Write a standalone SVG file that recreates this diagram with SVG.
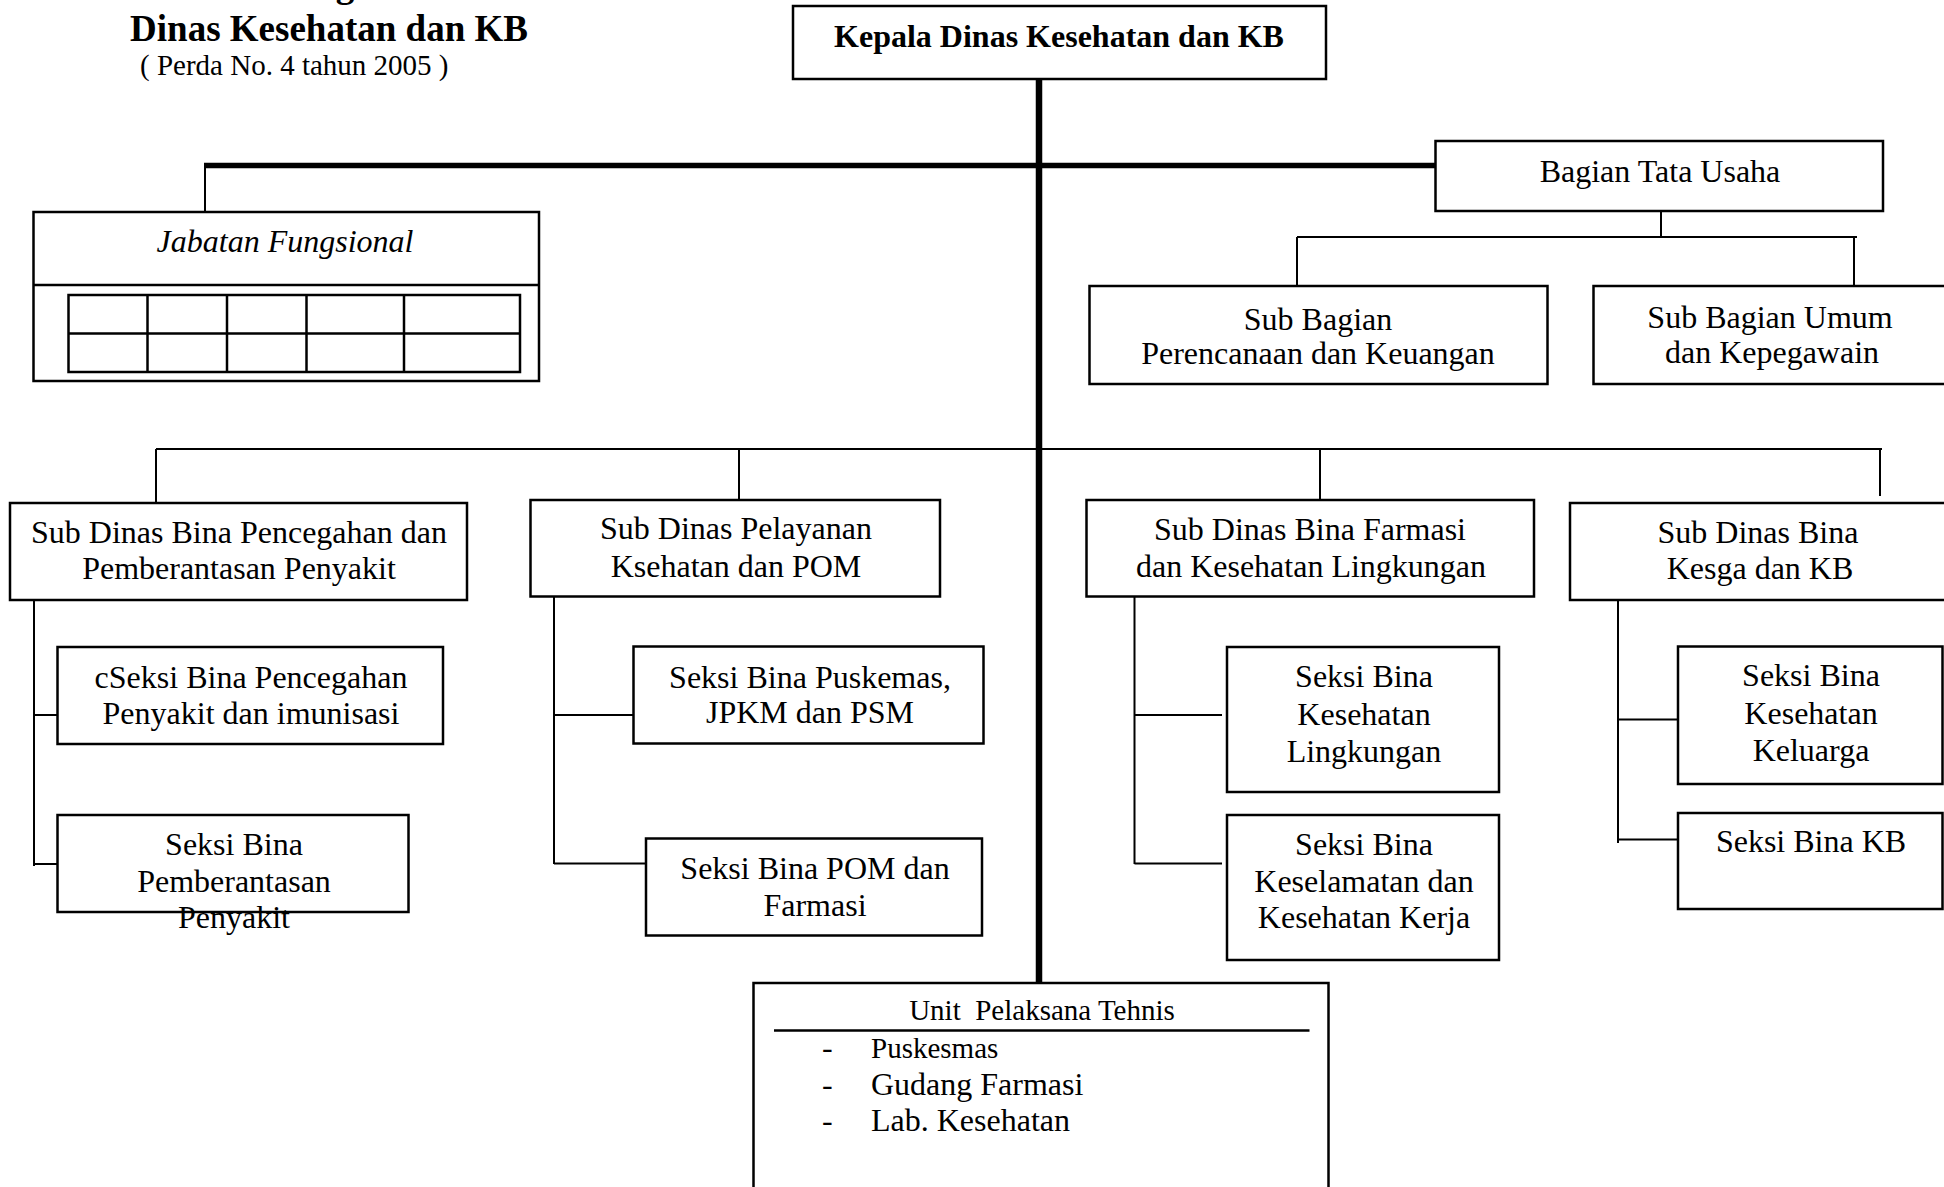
<svg xmlns="http://www.w3.org/2000/svg" width="1944" height="1187" viewBox="0 0 1944 1187">
<style>
  text { font-family: "Liberation Serif", "Times New Roman", serif; fill: #000; }
  .t { font-size: 32px; text-anchor: middle; }
  .b { font-weight: bold; }
  .box { fill: #fff; stroke: #000; stroke-width: 2.5; }
  .thin { stroke: #000; stroke-width: 2; fill: none; }
  .thick { stroke: #000; fill: none; }
</style>
<rect width="1944" height="1187" fill="#fff"/>

<g id="header">
  <text x="345" y="-3" class="b" font-size="37" text-anchor="middle">g</text>
  <text x="329" y="41" class="b" font-size="37" text-anchor="middle">Dinas Kesehatan dan KB</text>
  <text x="140" y="75" font-size="29">( Perda No. 4 tahun 2005 )</text>
</g>

<g id="connectors">
  <line class="thick" x1="1039" y1="80" x2="1039" y2="983" stroke-width="6.5"/>
  <line class="thick" x1="204" y1="165.5" x2="1436" y2="165.5" stroke-width="5.5"/>
  <line class="thin" x1="205" y1="165" x2="205" y2="212"/>
  <line class="thin" x1="1661" y1="212" x2="1661" y2="237"/>
  <line class="thin" x1="1297" y1="237" x2="1857" y2="237"/>
  <line class="thin" x1="1297" y1="237" x2="1297" y2="286"/>
  <line class="thin" x1="1854" y1="237" x2="1854" y2="286"/>
  <line class="thin" x1="156" y1="449" x2="1882" y2="449"/>
  <line class="thin" x1="156" y1="449" x2="156" y2="503"/>
  <line class="thin" x1="739" y1="449" x2="739" y2="500"/>
  <line class="thin" x1="1320" y1="449" x2="1320" y2="500"/>
  <line class="thin" x1="1880" y1="449" x2="1880" y2="496"/>
  <line class="thin" x1="34" y1="600" x2="34" y2="866"/>
  <line class="thin" x1="34" y1="715" x2="58" y2="715"/>
  <line class="thin" x1="34" y1="864" x2="58" y2="864"/>
  <line class="thin" x1="554" y1="596" x2="554" y2="864"/>
  <line class="thin" x1="554" y1="715" x2="634" y2="715"/>
  <line class="thin" x1="554" y1="863.5" x2="646" y2="863.5"/>
  <line class="thin" x1="1134.5" y1="596" x2="1134.5" y2="864"/>
  <line class="thin" x1="1134.5" y1="715" x2="1222" y2="715"/>
  <line class="thin" x1="1134.5" y1="863.5" x2="1222" y2="863.5"/>
  <line class="thin" x1="1618" y1="600" x2="1618" y2="843"/>
  <line class="thin" x1="1618" y1="719.5" x2="1678" y2="719.5"/>
  <line class="thin" x1="1618" y1="839.5" x2="1678" y2="839.5"/>
</g>

<g id="kepala">
  <rect class="box" x="793" y="6" width="533" height="73"/>
  <text x="1059" y="47" class="t b">Kepala Dinas Kesehatan dan KB</text>
</g>

<g id="tata-usaha">
  <rect class="box" x="1435.5" y="141" width="447.5" height="70"/>
  <text x="1660" y="182" class="t">Bagian Tata Usaha</text>
</g>

<g id="jabatan-fungsional">
  <rect class="box" x="33.5" y="212" width="505.5" height="169"/>
  <line class="box" x1="33.5" y1="285" x2="539" y2="285"/>
  <text x="285" y="252" class="t" font-style="italic">Jabatan Fungsional</text>
  <rect class="box" x="68.5" y="295" width="451.5" height="77"/>
  <line class="box" x1="68.5" y1="333.5" x2="520" y2="333.5"/>
  <line class="box" x1="147.5" y1="295" x2="147.5" y2="372"/>
  <line class="box" x1="227" y1="295" x2="227" y2="372"/>
  <line class="box" x1="306.5" y1="295" x2="306.5" y2="372"/>
  <line class="box" x1="404" y1="295" x2="404" y2="372"/>
</g>

<g id="sub-bagian-perencanaan">
  <rect class="box" x="1089.5" y="286" width="458" height="98"/>
  <text x="1318" y="330" class="t">Sub Bagian</text>
  <text x="1318" y="364" class="t">Perencanaan dan Keuangan</text>
</g>

<g id="sub-bagian-umum">
  <rect class="box" x="1593.5" y="286" width="354.5" height="98"/>
  <text x="1770" y="328" class="t">Sub Bagian Umum</text>
  <text x="1772" y="363" class="t">dan Kepegawain</text>
</g>

<g id="subdinas-p2p">
  <rect class="box" x="10" y="503" width="457" height="97"/>
  <text x="239" y="543" class="t">Sub Dinas Bina Pencegahan dan</text>
  <text x="239" y="579" class="t">Pemberantasan Penyakit</text>
</g>

<g id="subdinas-pelayanan">
  <rect class="box" x="530.5" y="500" width="409.5" height="96.5"/>
  <text x="736" y="539" class="t">Sub Dinas Pelayanan</text>
  <text x="736" y="577" class="t">Ksehatan dan POM</text>
</g>

<g id="subdinas-farmasi">
  <rect class="box" x="1086.5" y="500" width="447.5" height="96.5"/>
  <text x="1310" y="540" class="t">Sub Dinas Bina Farmasi</text>
  <text x="1311" y="577" class="t">dan Kesehatan Lingkungan</text>
</g>

<g id="subdinas-kesga">
  <rect class="box" x="1570" y="503" width="378" height="97"/>
  <text x="1758" y="543" class="t">Sub Dinas Bina</text>
  <text x="1760" y="579" class="t">Kesga dan KB</text>
</g>

<g id="seksi-pencegahan">
  <rect class="box" x="57.5" y="647" width="385.5" height="97"/>
  <text x="251" y="688" class="t">cSeksi Bina Pencegahan</text>
  <text x="251" y="724" class="t">Penyakit dan imunisasi</text>
</g>

<g id="seksi-pemberantasan">
  <rect class="box" x="57.5" y="815" width="351" height="97"/>
  <text x="234" y="855" class="t">Seksi Bina</text>
  <text x="234" y="892" class="t">Pemberantasan</text>
  <text x="234" y="928" class="t">Penyakit</text>
</g>

<g id="seksi-puskesmas">
  <rect class="box" x="633.5" y="646.5" width="350" height="97"/>
  <text x="810" y="687.5" class="t">Seksi Bina Puskemas,</text>
  <text x="810" y="723" class="t">JPKM dan PSM</text>
</g>

<g id="seksi-pom">
  <rect class="box" x="646" y="838.5" width="336" height="97"/>
  <text x="815" y="878.5" class="t">Seksi Bina POM dan</text>
  <text x="815" y="916" class="t">Farmasi</text>
</g>

<g id="seksi-kesling">
  <rect class="box" x="1227" y="647" width="272" height="145"/>
  <text x="1364" y="687" class="t">Seksi Bina</text>
  <text x="1364" y="725" class="t">Kesehatan</text>
  <text x="1364" y="761.5" class="t">Lingkungan</text>
</g>

<g id="seksi-k3">
  <rect class="box" x="1227" y="815" width="272" height="145"/>
  <text x="1364" y="855" class="t">Seksi Bina</text>
  <text x="1364" y="891.5" class="t">Keselamatan dan</text>
  <text x="1364" y="928" class="t">Kesehatan Kerja</text>
</g>

<g id="seksi-keluarga">
  <rect class="box" x="1678" y="646.5" width="264.5" height="137.5"/>
  <text x="1811" y="686" class="t">Seksi Bina</text>
  <text x="1811" y="724" class="t">Kesehatan</text>
  <text x="1811" y="761" class="t">Keluarga</text>
</g>

<g id="seksi-kb">
  <rect class="box" x="1678" y="813" width="264.5" height="96"/>
  <text x="1811" y="852" class="t">Seksi Bina KB</text>
</g>

<g id="upt">
  <rect class="box" x="753.5" y="983" width="575" height="230"/>
  <text x="1042" y="1020" font-size="29" text-anchor="middle" style="white-space:pre">Unit  Pelaksana Tehnis</text>
  <line class="box" x1="774" y1="1030.5" x2="1309.5" y2="1030.5"/>
  <text x="822" y="1058" font-size="32">-</text>
  <text x="871" y="1058" font-size="29">Puskesmas</text>
  <text x="822" y="1095" font-size="32">-</text>
  <text x="871" y="1095" font-size="32">Gudang Farmasi</text>
  <text x="822" y="1131" font-size="32">-</text>
  <text x="871" y="1131" font-size="32">Lab. Kesehatan</text>
</g>
</svg>
